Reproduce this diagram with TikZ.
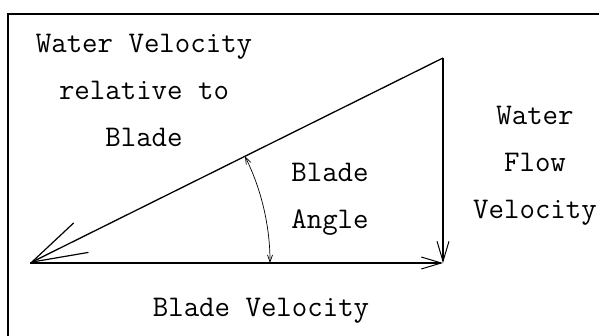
\documentclass[tikz,border=0pt]{standalone}
\usetikzlibrary{arrows.meta, calc}
\tikzset{
  frame/.style={line width=2pt},
  vec/.style={line width=1.3pt, -{Straight Barb[length=20pt,width=12pt,line width=1pt]}},
  bigvec/.style={line width=1.3pt, -{Straight Barb[length=55pt,width=33pt,line width=1.2pt]}},
  anglearc/.style={line width=0.7pt, {Straight Barb[length=7pt,width=5pt]}-{Straight Barb[length=7pt,width=5pt]}},
  txt/.style={font=\fontsize{30}{47}\selectfont\ttfamily, align=center, inner sep=0pt, anchor=base},
}

\begin{document}
\begin{tikzpicture}[x=1pt, y=1pt]
\useasboundingbox (0,0) rectangle (599,336);
% frame
\draw[frame] (8,0) -- (8,322) -- (599,322);
% triangle corners
\coordinate (O) at (30,73);
\coordinate (C) at (443,73);
\coordinate (T) at (443,278);
\draw[bigvec] (T) -- (O);
\draw[vec] (O) -- (C);
\draw[vec] (T) -- (C);
% angle arc
\coordinate (A) at ($(O)!240pt!(T)$);
\draw[anglearc] (A) arc[start angle=26.4, end angle=0, radius=240pt];
% labels (anchored at the last line)
\node[txt] (rel) at (144,189) {Water Velocity\\relative to\\Blade};
\node[txt] (flow) at (535,117) {Water\\Flow\\Velocity};
\node[txt] (ang) at (330,107) {Blade\\Angle};
\node[txt] (blade) at (261,19) {Blade Velocity};
\end{tikzpicture}
\end{document}
